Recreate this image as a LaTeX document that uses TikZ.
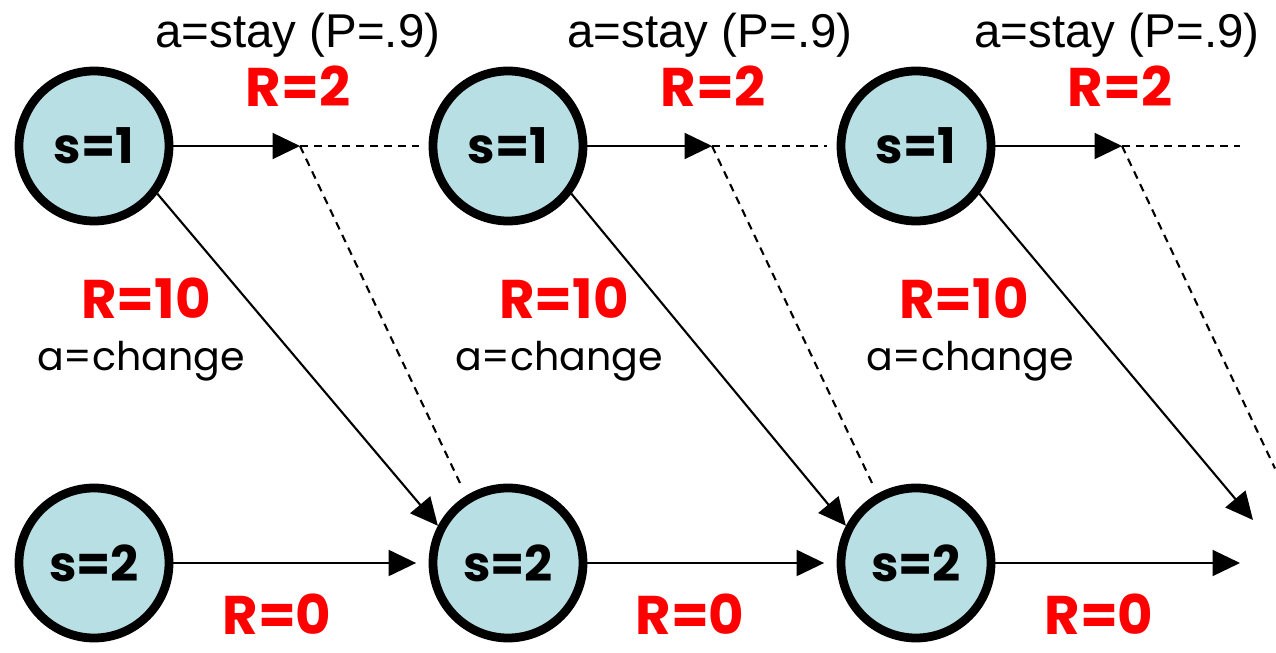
\documentclass[tikz,border=0pt]{standalone}
\usepackage{fontspec}
\setmainfont{Liberation Sans}
\newfontfamily\comicfont{Poppins}
\usetikzlibrary{calc, arrows.meta, positioning}
\definecolor{stateblue}{RGB}{184,224,228}

\begin{document}
\begin{tikzpicture}[
    state/.style={circle, draw, line width=5pt, fill=stateblue, minimum size=3.0cm,
      inner sep=0pt, font=\comicfont\bfseries\fontsize{28}{32}\selectfont},
    arr/.style={-{Triangle[length=0.55cm, width=0.52cm]}, line width=1.2pt},
    dsh/.style={dash pattern=on 4.5pt off 3.5pt, line width=1.2pt},
    rew/.style={red, anchor=base, inner sep=0pt, font=\comicfont\bfseries\fontsize{31}{34}\selectfont},
    act/.style={anchor=base, inner sep=0pt, font=\comicfont\fontsize{22.5}{26}\selectfont},
    stay/.style={anchor=base, inner sep=0pt, font=\fontsize{27}{30}\selectfont},
  ]
  \useasboundingbox (0,0) rectangle (25.52,13.04);

  % States
  \node[state] (s1a) at (1.88,10.12) {s=1};
  \node[state] (s1b) at (10.16,10.12) {s=1};
  \node[state] (s1c) at (18.32,10.12) {s=1};
  \node[state] (s2a) at (1.88,1.78) {s=2};
  \node[state] (s2b) at (10.16,1.78) {s=2};
  \node[state] (s2c) at (18.32,1.78) {s=2};

  % Free ends
  \coordinate (t1) at (6.0,10.12);
  \coordinate (t2) at (14.24,10.12);
  \coordinate (t3) at (22.44,10.12);
  \coordinate (d1) at (9.2,3.38);
  \coordinate (d2) at (17.44,3.38);
  \coordinate (d3) at (25.5,3.67);
  \coordinate (h3) at (24.8,10.12);
  \coordinate (e3) at (25.06,2.64);
  \coordinate (b3) at (24.8,1.78);

  % a=stay
  \draw[arr] (s1a) -- (t1);
  \draw[arr] (s1b) -- (t2);
  \draw[arr] (s1c) -- (t3);
  \draw[dsh, shorten >=0.2cm] (t1) -- (s1b.west);
  \draw[dsh, shorten >=0.2cm] (t2) -- (s1c.west);
  \draw[dsh] (t3) -- (h3);
  \draw[dsh] (t1) -- (d1);
  \draw[dsh] (t2) -- (d2);
  \draw[dsh] (t3) -- (d3);

  % a=change
  \draw[arr] (s1a.-37) -- (s2b.152);
  \draw[arr] (s1b.-37) -- (s2c.152);
  \draw[arr] (s1c.-37) -- (e3);

  % s=2
  \draw[arr, shorten >=0.25cm] (s2a) -- (s2b);
  \draw[arr, shorten >=0.25cm] (s2b) -- (s2c);
  \draw[arr] (s2c) -- (b3);

  % Labels
  \node[stay] (st1) at (5.96,12.08) {a=stay (P=.9)};
  \node[stay] (st2) at (14.2,12.08) {a=stay (P=.9)};
  \node[stay] (st3) at (22.34,12.08) {a=stay (P=.9)};
  \node[rew] (rs1) at (5.96,10.9) {R=2};
  \node[rew] (rs2) at (14.26,10.9) {R=2};
  \node[rew] (rs3) at (22.4,10.9) {R=2};
  \node[rew] (rc1) at (2.92,6.68) {R=10};
  \node[rew] (rc2) at (11.28,6.68) {R=10};
  \node[rew] (rc3) at (19.28,6.68) {R=10};
  \node[act] (ch1) at (2.82,5.64) {a=change};
  \node[act] (ch2) at (11.18,5.64) {a=change};
  \node[act] (ch3) at (19.4,5.64) {a=change};
  \node[rew] (rz1) at (5.54,0.36) {R=0};
  \node[rew] (rz2) at (13.8,0.36) {R=0};
  \node[rew] (rz3) at (21.98,0.36) {R=0};
\end{tikzpicture}
\end{document}
